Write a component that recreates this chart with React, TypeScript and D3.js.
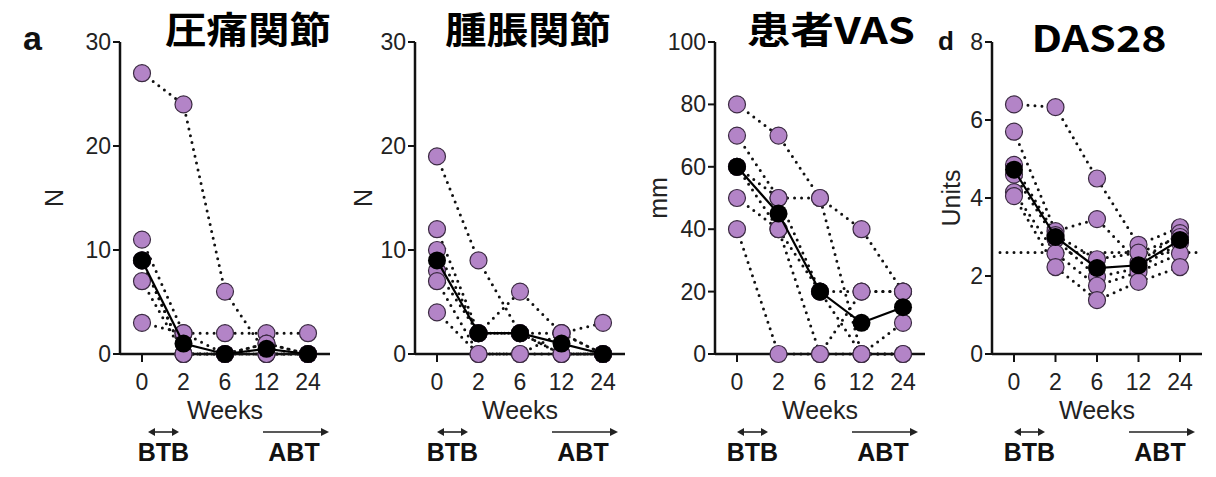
import * as d3 from 'd3';
import React from 'react';

// weeks after switch
const weeks = ['0', '2', '6', '12', '24'];

// one row per patient, values at each week
const tenderJoints = [
    [27, 24, 6, 0, 0],
    [11, 2, 2, 2, 2],
    [9, 0, 0, 1, 0],
    [9, 0, 0, 0, 0],
    [7, 0, 0, 0, 0],
    [3, 2, 0, 1, 0],
];
const swollenJoints = [
    [19, 9, 2, 0, 0],
    [12, 2, 6, 2, 0],
    [10, 2, 2, 2, 3],
    [8, 2, 2, 0, 0],
    [7, 0, 0, 0, 0],
    [4, 0, 0, 2, 0],
];
const patientVas = [
    [80, 70, 50, 40, 20],
    [70, 50, 50, 0, 0],
    [60, 50, 20, 20, 20],
    [60, 40, 20, 0, 10],
    [50, 40, 0, 20, 20],
    [40, 0, 0, 0, 0],
];
const das28 = [
    [6.4, 6.33, 4.5, 2.8, 3.25],
    [5.7, 3.15, 3.46, 2.35, 3.1],
    [4.85, 3.05, 2.43, 2.6, 3.0],
    [4.6, 2.95, 1.98, 2.2, 2.85],
    [4.15, 2.58, 1.75, 2.1, 2.58],
    [4.05, 2.23, 1.38, 1.85, 2.23],
];

const jointTicks = [0, 10, 20, 30];
const vasTicks = [0, 20, 40, 60, 80, 100];
const dasTicks = [0, 2, 4, 6, 8];
const dasCutoff = 2.6;

const width = 1216;
const height = 477;
const plotTop = 42;
const plotBottom = 354;
const axisLen = 210;
const purple = '#b384c7';
const font = '"Liberation Sans", Arial, sans-serif';
const cjk = '"Noto Sans CJK JP", "Noto Sans", sans-serif';

interface PanelProps {
    x0: number;
    data: number[][];
    ticks: number[];
    yLabel: string;
    yLabelX: number;
    title: string;
    titleX: number;
    titleLen: number;
    shift?: number;
    refLine?: number;
}

const Panel = ({ x0, data, ticks, yLabel, yLabelX, title, titleX, titleLen, shift = 0, refLine }: PanelProps) => {
    const x = d3.scalePoint().domain(weeks).range([x0, x0 + axisLen]).padding(0.53);
    const y = d3
        .scaleLinear()
        .domain([0, ticks[ticks.length - 1]])
        .range([plotBottom, plotTop]);
    const line = d3
        .line<number>()
        .x((d, i) => x(weeks[i])!)
        .y((d) => y(d));
    const medians = weeks.map((w, i) => d3.median(data, (s) => s[i])!);
    const midX = (x(weeks[0])! + x(weeks[weeks.length - 1])!) / 2;
    const isLatin = /^[A-Za-z0-9]+$/.test(title);

    const arrowY = 432;
    const b0 = x0 + 22 + shift;
    const b1 = x0 + 53 + shift;
    const a0 = x0 + 137 + shift;
    const a1 = x0 + 203 + shift;

    return (
        <g>
            {/* patients */}
            {data.map((s, i) => (
                <path
                    key={'l' + i}
                    d={line(s)!}
                    fill="none"
                    stroke="#111"
                    strokeWidth={3}
                    strokeDasharray="0 7"
                    strokeLinecap="round"
                />
            ))}
            {refLine !== undefined && (
                <line
                    x1={x0 + 8}
                    x2={x0 + axisLen}
                    y1={y(refLine)}
                    y2={y(refLine)}
                    stroke="#111"
                    strokeWidth={3}
                    strokeDasharray="0 7"
                    strokeLinecap="round"
                />
            )}

            {/* axes */}
            <line x1={x0} x2={x0} y1={plotTop} y2={plotBottom + 1} stroke="#111" strokeWidth={2.5} />
            <line x1={x0} x2={x0 + axisLen} y1={plotBottom} y2={plotBottom} stroke="#111" strokeWidth={2.5} />
            {ticks.map((t) => (
                <g key={'yt' + t}>
                    <line x1={x0 - 7} x2={x0} y1={y(t)} y2={y(t)} stroke="#111" strokeWidth={2} />
                    <text
                        x={x0 - 9}
                        y={y(t) + 8}
                        textAnchor="end"
                        fontFamily={font}
                        fontSize={23}
                        fill="#222"
                    >
                        {t}
                    </text>
                </g>
            ))}
            {weeks.map((w) => (
                <g key={'xt' + w}>
                    <line x1={x(w)} x2={x(w)} y1={plotBottom} y2={plotBottom + 8} stroke="#111" strokeWidth={2} />
                    <text x={x(w)} y={390} textAnchor="middle" fontFamily={font} fontSize={23} fill="#222">
                        {w}
                    </text>
                </g>
            ))}
            <text x={midX} y={419} textAnchor="middle" fontFamily={font} fontSize={25} fill="#222">
                Weeks
            </text>
            <text
                transform={`translate(${yLabelX},${(plotTop + plotBottom) / 2}) rotate(-90)`}
                textAnchor="middle"
                fontFamily={font}
                fontSize={25}
                fill="#222"
            >
                {yLabel}
            </text>

            {/* points */}
            {data.map((s, i) =>
                s.map((v, j) => (
                    <circle
                        key={`p${i}-${j}`}
                        cx={x(weeks[j])}
                        cy={y(v)}
                        r={8.5}
                        fill={purple}
                        stroke="#3b2a42"
                        strokeWidth={1.2}
                    />
                )),
            )}
            <path d={line(medians)!} fill="none" stroke="#000" strokeWidth={2.2} />
            {medians.map((v, j) => (
                <circle key={'m' + j} cx={x(weeks[j])} cy={y(v)} r={9} fill="#000" />
            ))}

            {/* treatment periods */}
            <line x1={b0 + 4} x2={b1 - 4} y1={arrowY} y2={arrowY} stroke="#222" strokeWidth={1.6} />
            <path d={`M${b0},${arrowY} l7,-4 v8 z`} fill="#222" />
            <path d={`M${b1},${arrowY} l-7,-4 v8 z`} fill="#222" />
            <text x={(b0 + b1) / 2} y={461} textAnchor="middle" fontFamily={font} fontWeight="bold" fontSize={25} fill="#111">
                BTB
            </text>
            <line x1={a0} x2={a1 - 4} y1={arrowY} y2={arrowY} stroke="#222" strokeWidth={1.6} />
            <path d={`M${a1},${arrowY} l-8,-4 v8 z`} fill="#222" />
            <text x={x0 + 168 + shift} y={461} textAnchor="middle" fontFamily={font} fontWeight="bold" fontSize={25} fill="#111">
                ABT
            </text>

            {/* title */}
            <text
                x={titleX}
                y={isLatin ? 52 : 44}
                textAnchor="middle"
                fontFamily={cjk}
                fontWeight="bold"
                fontSize={isLatin ? 36 : 37}
                textLength={titleLen}
                lengthAdjust="spacingAndGlyphs"
                fill="#000"
            >
                {title}
            </text>
        </g>
    );
};

export default function App() {
    return (
        <svg
            width={width}
            height={height}
            style={{ position: 'absolute', left: 0, top: 0, background: '#fff' }}
        >
            <rect width={width} height={height} fill="#fff" />
            <text x={23} y={50} fontFamily={font} fontWeight="bold" fontSize={34} fill="#111">
                a
            </text>
            <text x={938} y={50} fontFamily={font} fontWeight="bold" fontSize={26} fill="#111">
                d
            </text>
            <Panel
                x0={120}
                data={tenderJoints}
                ticks={jointTicks}
                yLabel="N"
                yLabelX={63}
                title="圧痛関節"
                titleX={248}
                titleLen={166}
                shift={6}
            />
            <Panel
                x0={415}
                data={swollenJoints}
                ticks={jointTicks}
                yLabel="N"
                yLabelX={372}
                title="腫脹関節"
                titleX={528}
                titleLen={166}
            />
            <Panel
                x0={715}
                data={patientVas}
                ticks={vasTicks}
                yLabel="mm"
                yLabelX={667}
                title="患者VAS"
                titleX={831}
                titleLen={168}
            />
            <Panel
                x0={992}
                data={das28}
                ticks={dasTicks}
                yLabel="Units"
                yLabelX={960}
                title="DAS28"
                titleX={1099}
                titleLen={135}
                refLine={dasCutoff}
            />
        </svg>
    );
}
